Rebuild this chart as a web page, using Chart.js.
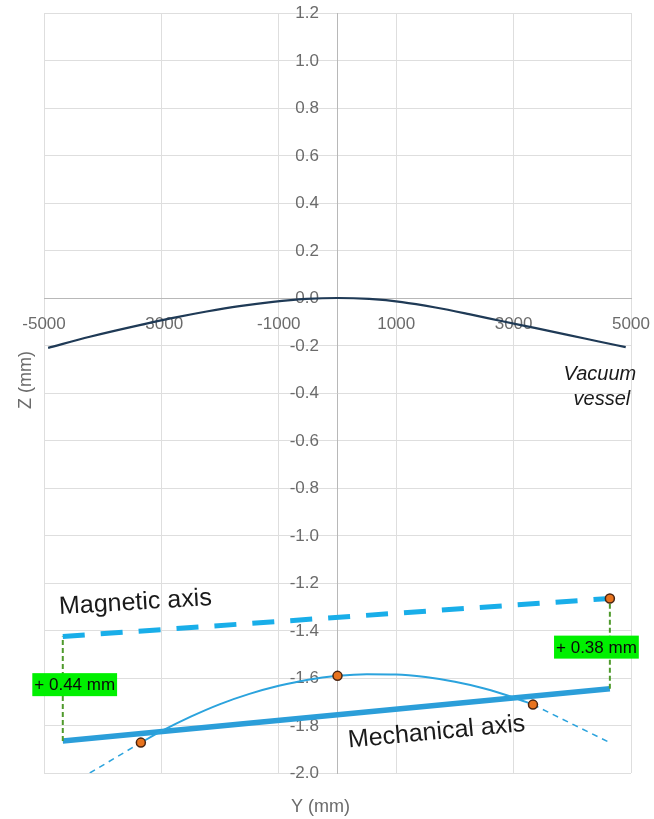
<!DOCTYPE html>
<html>
<head>
<meta charset="utf-8">
<title>Vacuum vessel, magnetic and mechanical axes</title>
<script src="https://cdn.jsdelivr.net/npm/chart.js@4/dist/chart.umd.min.js"></script>
<style>
  html, body { margin: 0; padding: 0; background: #ffffff; }
  #wrap { width: 654px; height: 819px; }
</style>
</head>
<body>
<div id="wrap"><canvas id="chart" width="654" height="819"></canvas></div>
<script>
// ---- Data (Y and Z in mm) ----
const xTicks = [-5000, -3000, -1000, 1000, 3000, 5000];
const yTicks = [-2.0, -1.8, -1.6, -1.4, -1.2, -1.0, -0.8, -0.6, -0.4, -0.2, 0.0, 0.2, 0.4, 0.6, 0.8, 1.0, 1.2];

// Vacuum vessel sag profile
const vesselY = [-4930, -4220, -3370, -2800, -2230, -1670, -1100, -530, 0, 540, 1100, 1670, 2240, 2810, 3380, 3940, 4450, 4910];
const vesselZ = [-0.210, -0.163, -0.114, -0.084, -0.057, -0.034, -0.016, -0.004, 0.000, -0.004, -0.017, -0.040, -0.068, -0.098, -0.127, -0.156, -0.183, -0.207];

// Mechanical axis end points and the measured magnetic offsets at each end
const axisEndY = [-4680, 4640];
const mechanicalZ = [-1.865, -1.645];
const offsetZ = [0.44, 0.38];
const magneticZ = mechanicalZ.map((z, i) => z + offsetZ[i]);

// Measured points
const measY = [-3350, 0, 3330, 4640];
const measZ = [-1.872, -1.591, -1.712, magneticZ[1]];

// Fitted curve through the measured points (solid part)
const fitY = [-3350, -3000, -2500, -2000, -1500, -1000, -500, 0, 500, 1000, 1500, 2000, 2500, 3000, 3330];
const fitZ = [-1.872, -1.824, -1.763, -1.710, -1.667, -1.633, -1.607, -1.591, -1.584, -1.585, -1.596, -1.616, -1.644, -1.682, -1.712];

// Fitted curve extrapolations (dashed)
const extLeftY = [-4220, -3350];
const extLeftZ = [-2.0, -1.872];
const extRightY = [3330, 4640];
const extRightZ = [-1.712, -1.872];

const pts = (xs, ys) => xs.map((v, i) => ({ x: v, y: ys[i] }));

const FONT = "'Liberation Sans', Arial, sans-serif";
const GRAY = '#6b6b6b';

// Free text placed in data coordinates
const notes = [
  { lines: ['Magnetic axis'], y: -4735, z: -1.331, angle: -3.4, font: '25px ' + FONT, align: 'left', color: '#1a1a1a' },
  { lines: ['Mechanical axis'], y: 190, z: -1.893, angle: -5.4, font: '25px ' + FONT, align: 'left', color: '#1a1a1a' },
  { lines: ['Vacuum', 'vessel'], y: 4470, z: -0.346, angle: 0, font: 'italic 20px ' + FONT, align: 'center', color: '#1a1a1a', lineGap: 25 }
];
// Offset tags (centre in data coordinates)
const tags = [
  { y: -4477, z: -1.628, value: offsetZ[0] },
  { y: 4411, z: -1.470, value: offsetZ[1] }
];

// Tick labels sit next to the crossing axes (x labels below Z = 0, y labels left of Y = 0)
const crossLabels = {
  id: 'crossLabels',
  beforeDatasetsDraw(chart) {
    const { ctx, scales: { x, y } } = chart;
    const x0 = x.getPixelForValue(0);
    const y0 = y.getPixelForValue(0);
    ctx.save();
    ctx.fillStyle = GRAY;
    ctx.font = '17px ' + FONT;
    ctx.textBaseline = 'middle';
    ctx.textAlign = 'center';
    x.ticks.forEach(t => {
      ctx.fillText(String(Math.round(t.value)), x.getPixelForValue(t.value), y0 + 26);
    });
    ctx.textAlign = 'right';
    y.ticks.forEach(t => {
      const v = Math.abs(t.value) < 1e-9 ? 0 : t.value;
      ctx.fillText(v.toFixed(1), x0 - 18.5, y.getPixelForValue(t.value) + 0.5);
    });
    ctx.restore();
  }
};

const overlay = {
  id: 'overlay',
  afterDatasetsDraw(chart) {
    const { ctx, scales: { x, y } } = chart;
    ctx.save();
    // axis titles
    ctx.fillStyle = GRAY;
    ctx.font = '18px ' + FONT;
    ctx.textAlign = 'center';
    ctx.textBaseline = 'middle';
    ctx.fillText('Y (mm)', 320.5, 807);
    ctx.save();
    ctx.translate(26.5, 380);
    ctx.rotate(-Math.PI / 2);
    ctx.fillText('Z (mm)', 0, 0);
    ctx.restore();

    // text notes
    notes.forEach(n => {
      ctx.save();
      ctx.translate(x.getPixelForValue(n.y), y.getPixelForValue(n.z));
      ctx.rotate(n.angle * Math.PI / 180);
      ctx.font = n.font;
      ctx.fillStyle = n.color;
      ctx.textAlign = n.align;
      ctx.textBaseline = 'alphabetic';
      n.lines.forEach((t, i) => ctx.fillText(t, i === 1 ? 2 : 0, i * (n.lineGap || 0)));
      ctx.restore();
    });

    // offset tags
    ctx.font = '17px ' + FONT;
    ctx.textAlign = 'center';
    ctx.textBaseline = 'middle';
    tags.forEach(t => {
      const label = '+ ' + t.value.toFixed(2) + ' mm';
      const cx = x.getPixelForValue(t.y);
      const cy = y.getPixelForValue(t.z);
      const w = ctx.measureText(label).width + 4;
      const h = 23;
      ctx.fillStyle = '#00f000';
      ctx.fillRect(cx - w / 2, cy - h / 2, w, h);
      ctx.fillStyle = '#0a0a0a';
      ctx.fillText(label, cx, cy + 1);
    });
    ctx.restore();
  }
};

new Chart(document.getElementById('chart'), {
  type: 'scatter',
  data: {
    datasets: [
      {
        label: 'Measured points',
        data: pts(measY, measZ),
        showLine: false,
        pointRadius: 4.5,
        pointBackgroundColor: '#e8731e',
        pointBorderColor: '#4a2410',
        pointBorderWidth: 1.5
      },
      {
        label: 'Magnetic axis',
        data: pts(axisEndY, magneticZ),
        showLine: true,
        borderColor: '#19aee9',
        borderWidth: 5,
        borderDash: [22, 16],
        pointRadius: 0
      },
      {
        label: 'Offset left',
        data: pts([axisEndY[0], axisEndY[0]], [mechanicalZ[0], magneticZ[0]]),
        showLine: true,
        borderColor: '#4f9a2c',
        borderWidth: 2,
        borderDash: [5, 3],
        pointRadius: 0
      },
      {
        label: 'Offset right',
        data: pts([axisEndY[1], axisEndY[1]], [mechanicalZ[1], magneticZ[1]]),
        showLine: true,
        borderColor: '#4f9a2c',
        borderWidth: 2,
        borderDash: [5, 3],
        pointRadius: 0
      },
      {
        label: 'Fit',
        data: pts(fitY, fitZ),
        showLine: true,
        borderColor: '#2ba3dd',
        borderWidth: 2,
        cubicInterpolationMode: 'monotone',
        pointRadius: 0
      },
      {
        label: 'Fit extrapolation left',
        data: pts(extLeftY, extLeftZ),
        showLine: true,
        borderColor: '#2ba3dd',
        borderWidth: 1.5,
        borderDash: [6, 5],
        pointRadius: 0
      },
      {
        label: 'Fit extrapolation right',
        data: pts(extRightY, extRightZ),
        showLine: true,
        borderColor: '#2ba3dd',
        borderWidth: 1.5,
        borderDash: [6, 5],
        pointRadius: 0
      },
      {
        label: 'Mechanical axis',
        data: pts(axisEndY, mechanicalZ),
        showLine: true,
        borderColor: '#2b9ed9',
        borderWidth: 5.5,
        pointRadius: 0
      },
      {
        label: 'Vacuum vessel',
        data: pts(vesselY, vesselZ),
        showLine: true,
        borderColor: '#1f3a56',
        borderWidth: 2.2,
        cubicInterpolationMode: 'monotone',
        pointRadius: 0
      }
    ]
  },
  options: {
    responsive: false,
    animation: false,
    devicePixelRatio: 1,
    layout: { padding: { left: 44, right: 23, top: 13, bottom: 46 } },
    plugins: { legend: { display: false }, tooltip: { enabled: false } },
    scales: {
      x: {
        type: 'linear',
        min: -5000,
        max: 5000,
        position: { y: 0 },
        afterBuildTicks: s => { s.ticks = xTicks.map(v => ({ value: v })); },
        grid: { color: '#dedede', lineWidth: 1, drawTicks: false },
        border: { color: '#b8b8b8', width: 1 },
        ticks: { display: false }
      },
      y: {
        type: 'linear',
        min: -2.0,
        max: 1.2,
        position: { x: 0 },
        afterBuildTicks: s => { s.ticks = yTicks.map(v => ({ value: v })); },
        grid: { color: '#dedede', lineWidth: 1, drawTicks: false },
        border: { color: '#b8b8b8', width: 1 },
        ticks: { display: false }
      }
    }
  },
  plugins: [crossLabels, overlay]
});
</script>
</body>
</html>
